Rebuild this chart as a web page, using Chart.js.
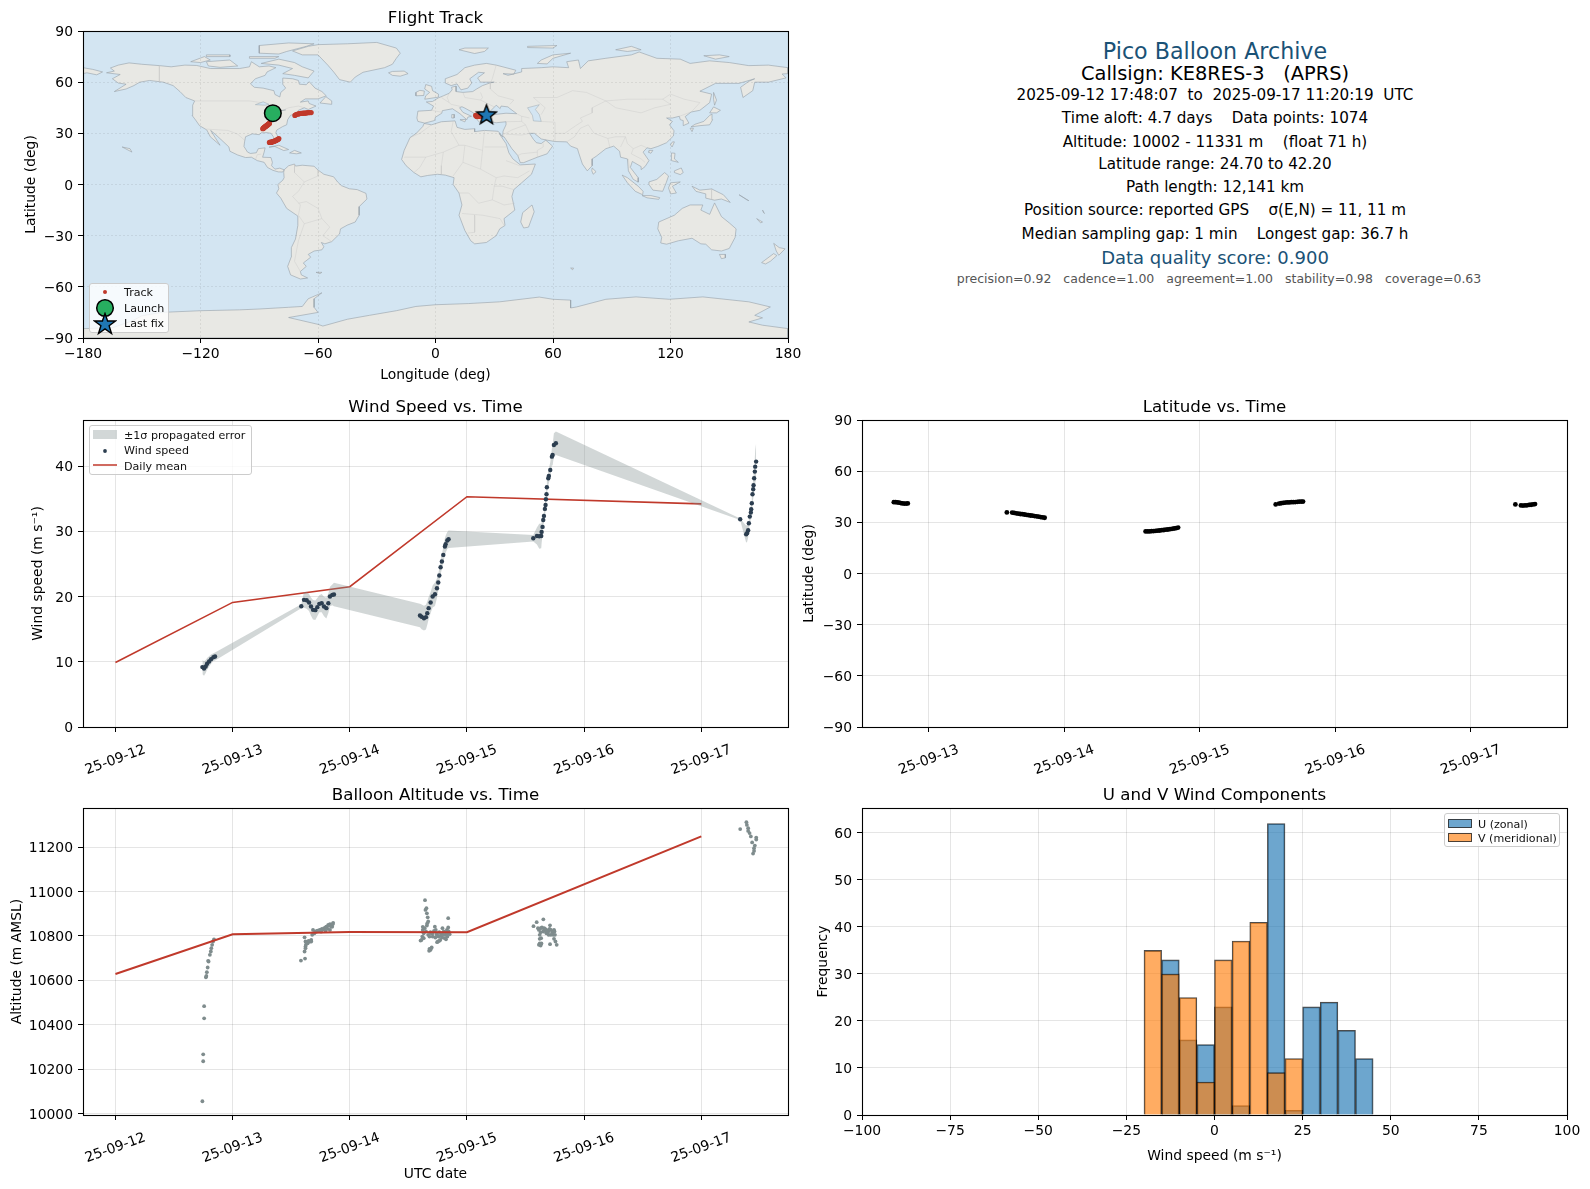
<!DOCTYPE html>
<html>
<head>
<meta charset="utf-8">
<title>Pico Balloon Archive</title>
<script src="https://cdn.jsdelivr.net/npm/chart.js@4/dist/chart.umd.min.js"></script>
<style>
html, body { margin: 0; padding: 0; background: #fff; }
body { position: relative; width: 1590px; height: 1189px; overflow: hidden; font-family: "DejaVu Sans", sans-serif; }
canvas { position: absolute; }
.info { position: absolute; left: 1215px; transform: translate(-50%, -50%); white-space: pre; color: #000; }
.legend { position: absolute; background: rgba(255,255,255,0.8); border: 1px solid #ccc; border-radius: 3px; box-sizing: border-box; font-size: 11.1px; color: #111; }
.legend span, .legend svg { position: absolute; }
.legend span { transform: translateY(-50%); white-space: pre; }
</style>
</head>
<body>
<canvas id="c-map"></canvas>
<canvas id="c-wind"></canvas>
<canvas id="c-lat"></canvas>
<canvas id="c-alt"></canvas>
<canvas id="c-hist"></canvas>

<div class="info" style="top:51px;font-size:22.2px;color:#1a5276">Pico Balloon Archive</div>
<div class="info" style="top:73px;font-size:19.4px">Callsign: KE8RES-3   (APRS)</div>
<div class="info" style="top:95px;font-size:15.2px">2025-09-12 17:48:07  to  2025-09-17 11:20:19  UTC</div>
<div class="info" style="top:118px;font-size:15.2px">Time aloft: 4.7 days    Data points: 1074</div>
<div class="info" style="top:141.5px;font-size:15.2px">Altitude: 10002 - 11331 m    (float 71 h)</div>
<div class="info" style="top:164px;font-size:15.2px">Latitude range: 24.70 to 42.20</div>
<div class="info" style="top:187px;font-size:15.2px">Path length: 12,141 km</div>
<div class="info" style="top:210px;font-size:15.2px">Position source: reported GPS    σ(E,N) = 11, 11 m</div>
<div class="info" style="top:233.5px;font-size:15.2px">Median sampling gap: 1 min    Longest gap: 36.7 h</div>
<div class="info" style="top:257px;font-size:18px;color:#1a5276">Data quality score: 0.900</div>
<div class="info" style="top:278px;left:1219px;font-size:12.5px;color:#555">precision=0.92   cadence=1.00   agreement=1.00   stability=0.98   coverage=0.63</div>

<div class="legend" style="left:89px;top:283px;width:80px;height:50px">
  <svg style="left:10px;top:3px" width="10" height="10"><circle cx="5" cy="5" r="2" fill="#c0392b"/></svg>
  <span style="left:34px;top:8px">Track</span>
  <svg style="left:5px;top:14px" width="20" height="20"><circle cx="10" cy="10" r="8.3" fill="#27ae60" stroke="#000" stroke-width="1.5"/></svg>
  <span style="left:34px;top:24px">Launch</span>
  <svg style="left:3px;top:28px" width="24" height="24"><polygon points="12,1.5 14.6,9 22.5,9 16.1,13.8 18.5,21.5 12,16.9 5.5,21.5 7.9,13.8 1.5,9 9.4,9" fill="#1f77b4" stroke="#000" stroke-width="1.4"/></svg>
  <span style="left:34px;top:39px">Last fix</span>
</div>

<div class="legend" style="left:89px;top:425px;width:163px;height:50px">
  <svg style="left:3px;top:4px" width="25" height="10"><rect x="0" y="0" width="24" height="9" fill="rgba(127,140,141,0.35)"/></svg>
  <span style="left:34px;top:9px">±1σ propagated error</span>
  <svg style="left:10px;top:20px" width="10" height="10"><circle cx="5" cy="5" r="1.9" fill="#2c3e50"/></svg>
  <span style="left:34px;top:24px">Wind speed</span>
  <svg style="left:2px;top:36px" width="26" height="6"><line x1="1" y1="3" x2="25" y2="3" stroke="#c0392b" stroke-width="1.5"/></svg>
  <span style="left:34px;top:40px">Daily mean</span>
</div>

<div class="legend" style="left:1444px;top:813px;width:116px;height:34px">
  <svg style="left:3px;top:5px" width="25" height="10"><rect x="0.5" y="0.5" width="23" height="8" fill="rgba(31,119,180,0.65)" stroke="rgba(0,0,0,0.7)"/></svg>
  <span style="left:33px;top:9.5px">U (zonal)</span>
  <svg style="left:3px;top:19px" width="25" height="10"><rect x="0.5" y="0.5" width="23" height="8" fill="rgba(255,127,14,0.65)" stroke="rgba(0,0,0,0.7)"/></svg>
  <span style="left:33px;top:23.5px">V (meridional)</span>
</div>

<script>
// DATA — time axis is day of September 2025 (UTC)
const dayTicks = [12, 13, 14, 15, 16, 17];
const dayTickLabels = ["25-09-12", "25-09-13", "25-09-14", "25-09-15", "25-09-16", "25-09-17"];

const windDays = [
  12.742, 12.756, 12.770, 12.782, 12.799, 12.816, 12.836, 12.850,
  13.586, 13.609, 13.632, 13.652, 13.669, 13.686, 13.706, 13.723, 13.740, 13.760, 13.780, 13.800, 13.817, 13.831, 13.851, 13.865,
  14.599, 14.613, 14.633, 14.650, 14.661, 14.673, 14.690, 14.707, 14.727, 14.744, 14.755, 14.764, 14.775, 14.786, 14.798, 14.812, 14.818, 14.832, 14.843,
  15.566, 15.597, 15.617, 15.634, 15.637, 15.645, 15.651, 15.657, 15.665, 15.671, 15.674, 15.679, 15.682, 15.694, 15.699, 15.711, 15.725, 15.731, 15.742, 15.759,
  17.332, 17.383, 17.392, 17.400, 17.406, 17.414, 17.423, 17.426, 17.431, 17.437, 17.443, 17.446, 17.451, 17.457, 17.460, 17.468
];
const windSpeed = [
  9.18, 8.97, 9.28, 9.69, 10.05, 10.40, 10.71, 10.81,
  18.52, 19.49, 19.44, 19.08, 18.47, 17.96, 17.91, 18.37, 18.88, 18.98, 18.47, 18.22, 18.98, 20.0, 20.26, 20.31,
  17.09, 16.89, 16.68, 16.84, 17.45, 18.22, 19.08, 20.0, 20.36, 21.28, 22.15, 23.22, 24.49, 25.36, 26.38, 27.66, 28.02, 28.58, 28.78,
  28.93, 29.29, 29.24, 29.29, 29.91, 30.67, 31.74, 32.36, 33.43, 34.04, 34.91, 35.67, 36.75, 38.12, 38.48, 39.4, 41.44, 41.7, 43.23, 43.49,
  31.85, 29.55, 29.75, 30.16, 31.23, 32.25, 32.87, 33.38, 34.3, 35.67, 36.44, 37.05, 38.12, 39.15, 39.91, 40.68
];
const windSigma = [
  1.1, 1.1, 1.0, 0.9, 0.8, 0.7, 0.6, 0.6,
  0.3, 1.2, 1.3, 1.3, 1.4, 1.5, 1.5, 1.4, 1.3, 1.4, 1.5, 1.6, 1.5, 1.5, 1.6, 1.8,
  1.8, 1.9, 1.9, 1.9, 1.8, 1.7, 1.6, 1.7, 1.8, 1.5, 1.3, 1.1, 1.1, 1.1, 1.2, 1.3, 1.3, 1.3, 1.35,
  0.5, 1.3, 1.9, 1.9, 1.8, 1.2, 1.0, 1.0, 1.0, 1.0, 1.0, 1.0, 1.0, 1.1, 1.1, 1.2, 1.3, 1.6, 1.8, 1.8,
  0.1, 1.3, 1.3, 1.1, 1.0, 1.0, 1.0, 1.0, 1.2, 1.3, 1.5, 1.6, 1.9, 2.2, 2.5, 2.8
];
const meanDays = [12, 13, 14, 15, 17];
const meanWind = [9.9, 19.1, 21.5, 35.3, 34.2];
const meanAlt = [10629, 10808, 10818, 10817, 11248];

const latDays = [
  12.742, 12.755, 12.768, 12.781, 12.794, 12.807, 12.820, 12.833, 12.845,
  13.576, 13.615, 13.630, 13.645, 13.660, 13.675, 13.690, 13.705, 13.720, 13.735, 13.750, 13.765, 13.780, 13.795, 13.810, 13.825, 13.840, 13.855,
  14.600, 14.615, 14.630, 14.645, 14.660, 14.675, 14.690, 14.705, 14.720, 14.735, 14.750, 14.765, 14.780, 14.795, 14.810, 14.825, 14.840,
  15.560, 15.585, 15.600, 15.615, 15.630, 15.645, 15.660, 15.675, 15.690, 15.705, 15.720, 15.735, 15.750, 15.762,
  17.329, 17.370, 17.385, 17.400, 17.415, 17.430, 17.445, 17.460, 17.474
];
const latValues = [
  41.8, 41.8, 41.7, 41.5, 41.3, 41.1, 41.0, 41.0, 41.1,
  35.8, 35.7, 35.5, 35.3, 35.1, 34.9, 34.8, 34.6, 34.4, 34.2, 34.0, 33.9, 33.7, 33.5, 33.3, 33.1, 32.9, 32.7,
  24.7, 24.7, 24.7, 24.8, 24.9, 25.0, 25.1, 25.2, 25.4, 25.5, 25.7, 25.8, 26.0, 26.2, 26.4, 26.6, 26.9,
  40.5, 41.0, 41.2, 41.4, 41.6, 41.7, 41.7, 41.8, 41.8, 41.9, 42.0, 42.1, 42.2, 42.2,
  40.5, 39.9, 39.8, 39.9, 40.0, 40.2, 40.3, 40.5, 40.7
];
const trackLon = [
  -83, -82.8, -82.6, -82.3, -82, -81.7, -81.5, -81.2, -81,
  -84.8, -85, -85.2, -85.4, -85.6, -85.8, -86, -86.2, -86.4, -86.6, -86.8, -87, -87.2, -87.4, -87.6, -87.8, -88, -88.2,
  -84.8, -84.5, -84.2, -83.9, -83.6, -83.3, -83, -82.7, -82.4, -82.1, -81.8, -81.5, -81.2, -80.9, -80.6, -80.3, -80,
  -71.8, -71.2, -70.6, -70, -69.4, -68.7, -68.1, -67.5, -66.9, -66.3, -65.7, -65.1, -64.3, -63.5,
  20.5, 21, 21.5, 22, 22.5, 23.2, 24, 25, 25.9
];
const launchLon = [-83.06], launchLat = [41.8];
const lastLon = [25.9], lastLat = [40.8];

const altDays = [
  12.742, 12.749, 12.749, 12.757, 12.757, 12.772, 12.776, 12.780, 12.787, 12.795, 12.791, 12.806, 12.814, 12.818, 12.825, 12.833, 12.841,
  13.583, 13.618, 13.614, 13.622, 13.625, 13.622, 13.641, 13.660, 13.671, 13.614, 13.679, 13.686, 13.705, 13.724, 13.743, 13.762, 13.781, 13.800, 13.816, 13.831, 13.858, 13.850, 13.831, 13.755, 13.793,
  13.633, 13.648, 13.671, 13.622, 13.698, 13.717, 13.736, 13.755, 13.774, 13.793, 13.812, 13.823, 13.842, 13.854,
  14.642, 14.654, 14.646, 14.658, 14.665, 14.669, 14.658, 14.623, 14.623, 14.631, 14.619, 14.604, 14.631, 14.688, 14.680, 14.699, 14.680, 14.696, 14.707, 14.726, 14.734, 14.745, 14.753, 14.772, 14.783, 14.791, 14.802, 14.810, 14.821, 14.829, 14.840, 14.840, 14.833,
  14.650, 14.669, 14.688, 14.707, 14.719, 14.730, 14.741, 14.757, 14.764, 14.776, 14.787, 14.799, 14.814, 14.821, 14.833, 14.844, 14.852, 14.745, 14.764, 14.692, 14.677, 14.612, 14.639, 14.661,
  15.568, 15.595, 15.652, 15.709, 15.606, 15.629, 15.659, 15.678, 15.697, 15.716, 15.736, 15.743, 15.621, 15.633, 15.621, 15.629, 15.678, 15.697, 15.736, 15.743, 15.755, 15.709, 15.766, 15.659,
  15.614, 15.640, 15.667, 15.690, 15.705, 15.728, 15.747, 15.716, 15.678, 15.621, 15.614, 15.636, 15.652, 15.629, 15.751,
  17.332, 17.385, 17.389, 17.400, 17.400, 17.412, 17.423, 17.469, 17.469, 17.434, 17.457, 17.450, 17.450, 17.442
];
const altValues = [
  10056, 10236, 10267, 10429, 10484, 10614, 10620, 10637, 10658, 10685, 10688, 10715, 10730, 10745, 10760, 10775, 10785,
  10689, 10698, 10730, 10745, 10760, 10775, 10767, 10775, 10782, 10794, 10805, 10827, 10820, 10824, 10827, 10832, 10835, 10842, 10850, 10853, 10859, 10842, 10827, 10820, 10823,
  10767, 10778, 10775, 10752, 10812, 10820, 10824, 10827, 10830, 10838, 10832, 10847, 10842, 10853,
  10961, 10925, 10917, 10902, 10884, 10865, 10847, 10841, 10827, 10812, 10797, 10779, 10790, 10737, 10742, 10748, 10797, 10812, 10797, 10842, 10827, 10805, 10775, 10782, 10812, 10835, 10820, 10790, 10805, 10827, 10880, 10838, 10812,
  10820, 10805, 10817, 10812, 10823, 10793, 10808, 10797, 10817, 10802, 10793, 10805, 10817, 10785, 10797, 10820, 10808, 10772, 10778, 10742, 10733, 10782, 10835, 10857,
  10844, 10862, 10875, 10848, 10835, 10835, 10835, 10827, 10823, 10827, 10820, 10827, 10805, 10790, 10767, 10757, 10812, 10805, 10805, 10787, 10775, 10763, 10760, 10827,
  10827, 10838, 10832, 10817, 10832, 10817, 10820, 10805, 10823, 10787, 10760, 10766, 10820, 10817, 10805,
  11281, 11312, 11300, 11285, 11273, 11263, 11248, 11243, 11234, 11221, 11207, 11195, 11183, 11171
];

const histCenters = [-17.5, -12.5, -7.5, -2.5, 2.5, 7.5, 12.5, 17.5, 22.5, 27.5, 32.5, 37.5, 42.5];
const histU = [0, 33, 16, 15, 23, 2, 0, 62, 1, 23, 24, 18, 12];
const histV = [35, 30, 25, 7, 33, 37, 41, 9, 12, 0, 0, 0, 0];

const lonTicks = [-180, -120, -60, 0, 60, 120, 180];
const latTicks = [-90, -60, -30, 0, 30, 60, 90];
const windTicks = [0, 10, 20, 30, 40];
const altTicks = [10000, 10200, 10400, 10600, 10800, 11000, 11200];
const histXTicks = [-100, -75, -50, -25, 0, 25, 50, 75, 100];
const histYTicks = [0, 10, 20, 30, 40, 50, 60];

// coastlines, [lon, lat]
const landNorthAmerica = [[-168,65.5],[-164,66.5],[-166,68.3],[-162,70],[-156.5,71.3],[-150,70.5],[-141,69.7],[-135,69],[-128,70],[-122,69.8],[-115,68],[-108,68],[-100,68],[-95,69],[-94,72],[-90,69],[-85,69.5],[-81.5,68.5],[-86,66],[-87,64],[-92,62],[-94.5,59],[-92.5,57],[-88,56.5],[-82.5,55],[-82,52.8],[-79.5,51.3],[-79,54],[-76.5,56.5],[-78,58.8],[-78,62.4],[-73,62],[-70,61],[-69.5,58.8],[-66,58.5],[-64.5,60.3],[-61.5,56.5],[-58,54.5],[-55.8,52],[-60,50.2],[-66.5,50.2],[-69,48.3],[-65,49],[-64.5,47.5],[-61,46],[-65,44],[-67,45],[-70,43.5],[-70.5,41.8],[-74,40.6],[-75.5,38],[-76,35],[-78,34],[-81,32],[-81.5,30.5],[-80,26.8],[-80.5,25.2],[-81.8,26],[-82.8,28],[-84,30],[-86,30.4],[-89,30.3],[-90,29.2],[-93.5,29.7],[-97,28],[-97.5,25],[-97.8,22.3],[-96,19],[-94.5,18.2],[-91.5,18.6],[-90.5,21],[-87,21.5],[-87.5,19],[-88.3,16],[-84,15.8],[-83.3,13],[-83.7,11],[-82,9],[-79.5,9.6],[-77.3,8.6],[-78,7.3],[-80.3,7.4],[-83,8.3],[-85.8,10],[-87.5,13],[-91,14],[-94,16],[-97,15.8],[-101,17.3],[-105,19.5],[-105.5,22],[-109,25.8],[-112.5,29.5],[-114.8,31.7],[-112.5,27.5],[-110,23],[-112,25],[-115,28],[-116.8,32],[-120.5,34.5],[-122.5,37.8],[-124.3,40.5],[-124,46.5],[-123,49],[-127.5,51],[-130.5,54.5],[-134,58],[-139,60],[-146,61],[-151,60],[-154,58],[-158,56],[-164,54.5],[-158,58.8],[-162,59.5],[-165,62],[-161,64.5],[-168,65.5]];
const landSouthAmerica = [[-77.3,8.6],[-75,11],[-72,12],[-71.5,10.8],[-68,11.3],[-62,10.7],[-60,8.5],[-57,6],[-52,4.5],[-50,1.5],[-48,-0.7],[-44,-2.5],[-40,-3],[-35.5,-5.2],[-35,-8.5],[-39,-13],[-39,-18],[-41,-22],[-45,-23.8],[-48.5,-26],[-49,-29],[-53,-33.5],[-56.5,-34.8],[-58.3,-34],[-57,-36.5],[-58,-38.3],[-62,-39],[-65,-41],[-63.7,-42.6],[-67.5,-46],[-66,-48],[-69,-51],[-68.5,-53],[-65.3,-54.8],[-69,-55.4],[-74,-53],[-75.5,-48],[-73.5,-42],[-73.6,-37],[-71.5,-32],[-70.3,-24],[-70.3,-18.5],[-76,-14],[-79,-8],[-81.2,-5],[-80,-2.5],[-80.5,0],[-78,2.5],[-77.3,4],[-77.5,7.2],[-77.3,8.6]];
const landGreenland = [[-73,78.3],[-68,76],[-60,76],[-55,70],[-52,66],[-49,61.5],[-43.5,60],[-41,63],[-37,65.8],[-26,68.5],[-22,70.5],[-20,74],[-18,77],[-20,80],[-30,83.3],[-45,82.5],[-60,82],[-65,81],[-73,78.3]];
const landEurasia = [[-9,37],[-9.5,39],[-9,43],[-2,43.5],[-1,46],[-4.7,48.4],[-1.5,48.7],[1.5,50.8],[4,52],[7,53.5],[8.5,55.5],[8.2,57],[10.5,57.7],[10.5,54.5],[14,54],[19,54.5],[21,56],[24,58],[28,59.6],[30,60],[23,60],[21.5,62.5],[25,65.5],[22,65.8],[17.5,62],[18.5,59.5],[16.5,56.5],[13,55.5],[11,59],[8,58],[5,59.5],[5,62],[11,64.5],[15,68.5],[20,70],[26,71],[31,70],[41,67],[40,64.7],[34.5,65],[37,64],[44,66],[44,68],[54,68.5],[60,69],[68,68.5],[67,72],[73,73],[74,68],[78,72.5],[87,74],[100,76],[104,77.7],[113,74],[125,73.5],[130,71],[140,72.5],[150,71.5],[160,69.7],[170,70],[180,68.5],[180,65],[177,64.8],[179,62.5],[170,60],[163,60],[162,55],[157,51],[155.8,57],[160,60.5],[163,62],[155,59.3],[143,59.3],[135,54.7],[141,53],[140,48],[135,43.5],[130.5,42.5],[127.5,39.8],[129.4,36],[126.5,34.5],[126.5,37.5],[125,38],[124.5,40],[121,39],[118,39],[121,37],[119.5,35],[121.8,31.5],[121.5,28.5],[118,24.5],[113.5,22.3],[110,21],[108,21.5],[106,19],[109,14],[107,10.5],[105,8.7],[105,10.5],[100.5,13.5],[99.5,10],[103.5,4],[103.5,1.4],[101,3],[98.5,8],[98,15],[94.5,16],[94,19.5],[91,22.5],[87,21],[82,16.5],[80,15],[80,11],[77.5,8],[75,12],[73,19],[72.5,21],[69,22.5],[67,25],[61,25.2],[57,26],[54,26.7],[50.5,30],[48,30],[50,26.5],[51.5,24.5],[54,24],[56.3,26],[59.8,22.5],[57,18],[52,16],[45,12.8],[43.3,12.8],[42,17],[39,21],[35,28],[34.3,28],[34.5,31.3],[36,35],[36,36.8],[31,36.2],[27.5,37],[26.5,39.5],[29,41],[31.5,41.2],[36,41.8],[41.5,41.5],[38,44.5],[37,45.5],[33.5,46],[33,44.5],[31,46.5],[28,43],[28.5,41.2],[26,40.7],[23.5,40],[24,38],[22.5,36.5],[20,39.5],[19.4,42],[15,44.8],[13.5,45.6],[12.3,45],[14,42.3],[18.4,40],[16.5,39.5],[16,38],[12.5,41.5],[8.7,44.4],[3.5,43.3],[3.2,41.8],[0,39.5],[-0.5,37.5],[-5.5,36],[-9,37]];
const landAfrica = [[-5.8,35.8],[-2,35],[3,36.8],[10,37.3],[11,33.5],[15,32.3],[20,32.7],[20,31],[25,31.7],[32,31.2],[34.3,28],[32.5,29.9],[36,24],[37.5,18.5],[39.5,15],[43.3,11.5],[51,12],[49,6],[44,1],[40,-3],[39,-7],[40.5,-15],[35,-20],[35.5,-24],[32.8,-26],[31,-30],[26,-34],[20,-34.8],[18,-33],[15,-27],[12,-18],[13.5,-12],[12,-5],[9,0],[9.5,4],[5,5.5],[1,6],[-4,5.3],[-7.5,4.5],[-11,7],[-15,11],[-17.3,14.7],[-16,20],[-13,27.5],[-9.8,30],[-6.5,34],[-5.8,35.8]];
const landAustralia = [[114,-22],[122,-18],[126,-14],[130,-12],[136.5,-12],[135.5,-15],[140,-17.5],[142.5,-10.8],[146,-18.8],[150,-22.5],[153.5,-26],[153,-31],[150,-37.5],[146,-39],[141,-38.3],[138,-35],[135.5,-34.8],[131,-31.5],[124,-33],[118,-35],[115,-34.3],[115.5,-31],[113.5,-26],[114,-22]];
const landAntarctica = [[-180,-90],[-180,-84.5],[-165,-84],[-155,-80],[-150,-77],[-140,-75],[-120,-74],[-100,-73.5],[-90,-73],[-75,-72],[-68,-71.5],[-65,-67],[-58,-63.5],[-62,-67],[-62,-72],[-60,-75],[-75,-78],[-60,-82],[-57.5,-83],[-45,-79],[-33.7,-76.7],[-20,-74],[-10,-71.5],[0,-70.5],[17,-69.8],[32.7,-68.8],[53,-66],[60,-67.3],[69,-67.8],[69,-72.4],[72,-71.8],[87,-67.3],[102.4,-65.9],[119.4,-67.3],[136.5,-65.9],[160,-68.8],[171,-71.8],[163,-76.7],[167,-78.2],[160,-80.6],[167,-82.5],[180,-84.5],[180,-90],[-180,-90]];
const landIslands = [
  [[-80,73.5],[-72,71.5],[-68,69],[-62,66.5],[-65,62.5],[-72,64],[-78,65],[-73,68],[-80,70],[-89,71],[-80,73.5]],
  [[-117,72],[-105,73],[-101,69.5],[-110,68.7],[-116,69.5],[-117,72]],
  [[-90,77],[-80,76.5],[-76,78],[-66,81],[-62,82.5],[-75,83],[-90,81.5],[-90,77]],
  [[-125,72],[-118,75],[-115,73],[-120,71.5],[-125,72]],
  [[-95,75],[-80,75],[-82,74],[-95,74],[-95,75]],
  [[-117,76],[-105,76],[-105,75],[-117,75],[-117,76]],
  [[-59,47.8],[-53,47],[-53,49],[-56,51.5],[-59,47.8]],
  [[-85,21.9],[-80,23],[-75,20.5],[-77.5,19.9],[-82,22.3],[-85,21.9]],
  [[-74.5,18.5],[-72,20],[-68.5,18.5],[-71,18],[-74.5,18.5]],
  [[-160,22],[-155,19],[-156,21],[-160,22]],
  [[-61,-51.5],[-58,-51.5],[-59,-52.3],[-61,-51.5]],
  [[49.3,-12],[50.4,-16],[47.5,-25],[45,-25.5],[43.5,-22],[44.5,-16.5],[49.3,-12]],
  [[-5.5,50],[1.3,51.2],[1.5,53],[-1.5,55],[-2,57.6],[-5,58.6],[-5.5,56],[-3,54],[-5,52],[-5.5,50]],
  [[-10,52],[-6,52.2],[-5.7,54.8],[-8,55.2],[-10,54],[-10,52]],
  [[-24,65.5],[-22,64],[-18,63.5],[-14,65],[-16,66.5],[-22,66.3],[-24,65.5]],
  [[12,79],[20,76.8],[25,78],[27,80],[15,80],[12,79]],
  [[52,71],[57,70.7],[60,74],[69,77],[60,76],[54,73],[52,71]],
  [[92,79],[100,81],[105,79],[98,78],[92,79]],
  [[137,75.5],[145,76],[150,75],[143,73.5],[137,75.5]],
  [[47,81],[62,81.5],[60,80],[47,80.3],[47,81]],
  [[12.5,38],[15.5,38.2],[15,36.7],[12.5,38]],
  [[8.3,41],[9.7,41],[9.5,39],[8.4,39],[8.3,41]],
  [[80,9.7],[82,7.5],[80.5,6],[79.8,8],[80,9.7]],
  [[130.5,33.8],[135,34.5],[140,35],[141.5,38],[141.2,41.3],[140,40.5],[137,37],[132.5,35.3],[130.5,33.8]],
  [[140,42],[143.5,42],[145.5,43.5],[142,45.5],[140,42]],
  [[130,33],[131.7,33],[131,31],[130,33]],
  [[142,54],[143.5,49.5],[142.5,46.5],[142,50],[142,54]],
  [[121,25],[122,25],[120.8,22],[120,23.3],[121,25]],
  [[109,20],[111,20],[110,18.3],[108.7,19],[109,20]],
  [[120.5,18.5],[122.3,18.3],[122,15],[124,13],[120.5,14],[120.5,18.5]],
  [[122,8],[125.5,9.7],[126.5,7],[125,5.8],[122,7],[122,8]],
  [[109,1.5],[113,3],[117,7],[119,5],[117.8,1],[116,-4],[111,-3.3],[109,0],[109,1.5]],
  [[95.3,5.5],[98,4],[103.5,-1],[106,-4],[105.8,-6],[102,-4],[98,1],[95.3,5.5]],
  [[105.5,-6.5],[110,-6.5],[114.5,-7.7],[114,-8.7],[108,-7.8],[105.5,-6.5]],
  [[120,1],[125,1.5],[121,-1],[123,-5],[120,-5.5],[119,-2],[120,1]],
  [[131,-1],[135,-3.3],[141,-2.6],[147,-6],[150.5,-10.5],[146,-8.5],[142.5,-9.2],[138,-8],[138,-5.5],[133,-4],[131,-1]],
  [[155,-6],[160,-9.5],[159,-9],[155,-6]],
  [[167,-15],[168,-17],[167.5,-16.5],[167,-15]],
  [[145,-41],[148,-41],[148,-43],[146,-43.5],[145,-41]],
  [[172.7,-34.5],[175.5,-37],[178.5,-37.7],[175.3,-41.5],[174,-39],[172.7,-34.5]],
  [[172.7,-40.5],[174.3,-41.7],[171,-45],[168.5,-46.6],[166.5,-45.8],[172.7,-40.5]],
  [[164,-20],[167,-22],[166,-22.5],[164,-20]],
  [[69,-49],[70.5,-49],[70,-50],[69,-49]],
  [[-180,68.5],[-175,67.5],[-170,66],[-173,64.3],[-178,65.5],[-180,65],[-180,68.5]]
];
const waterLakes = [
  [[47,45],[53,46.8],[51,44],[53,41],[54,37],[50,37.3],[49.5,40.5],[47,45]],
  [[-92,46.8],[-88,48.5],[-85,47],[-87,46.5],[-92,46.8]],
  [[-87.5,42],[-86,44],[-84.5,46],[-80.5,45],[-82.5,43],[-84,45],[-86.3,42],[-87.5,42]],
  [[-83,41.7],[-79,43.2],[-76.5,43.7],[-79.8,43.3],[-83,41.7]]
];
// a few of the faint country borders
const borderLines = [
  [[-141,69.7],[-141,60]],
  [[-123,49],[-95,49],[-89,48],[-83,45.5],[-79,43],[-75,45],[-70,46],[-67,45]],
  [[-117,32.5],[-106,31.7],[-101,29.5],[-97.5,26]],
  [[-92,14.5],[-91,17.5],[-89,17.8]],
  [[-70,-18],[-69,-12],[-73,-7],[-70,-4],[-67,1.5],[-60,5]],
  [[-70,-18],[-67,-23],[-70,-33],[-72,-45],[-69,-51]],
  [[-58,-20],[-54,-25],[-57.5,-30],[-53,-33.5]],
  [[-67,-23],[-58,-20],[-60,-14],[-66,-10],[-70,-11]],
  [[-72,12],[-72,7],[-67,1.5]],
  [[-60,8.5],[-60,5]],
  [[-2,35],[-8,30],[-13,27.5]],
  [[9,37],[8,31],[12,23],[15,23],[24,20],[25,31.7]],
  [[25,22],[36,22]],
  [[-16,16],[-5,16],[4,19],[12,23]],
  [[-5,16],[-8,10],[-11,7]],
  [[4,19],[3,11],[3,6]],
  [[15,23],[14,13],[9,5]],
  [[24,20],[23,9],[31,4],[35,5],[42,4],[48,8]],
  [[14,13],[23,9]],
  [[36,14],[43,11]],
  [[12,-5],[17,-5],[22,-11],[29,-9],[30,-1],[31,4]],
  [[13.5,-17],[24,-18],[33,-20],[35,-24]],
  [[20,-18],[20,-28],[16.5,-28.5]],
  [[30,-1],[34,-1],[40,-3]],
  [[29,-9],[35,-12],[40.5,-11]],
  [[3,51],[7,48],[8,47],[13.5,45.6]],
  [[-2,43.5],[3,42.4]],
  [[7,53.5],[6,51],[7,48]],
  [[14,54],[15,51],[23,49.5],[24,51],[23,54]],
  [[23,49.5],[30,45.5]],
  [[28,59.6],[28,56],[32,52],[40,49.5],[38,47]],
  [[31,70],[29,62],[28,59.6]],
  [[36,36.8],[44,37],[44,40],[41.5,41.5]],
  [[44,37],[46,35],[48,30]],
  [[46,35],[39,32],[35,29.5]],
  [[44,40],[48,39]],
  [[48,30],[44,29],[36,29.5]],
  [[52,16],[52,20],[55,22],[55,24]],
  [[42,17],[44,18],[52,19]],
  [[61,25],[61,30],[61,36.5],[54,37]],
  [[61,30],[66,30],[71,34],[75,37]],
  [[67,25],[71,28],[74,33],[78,35],[81,30],[88,27],[92,28],[97,28]],
  [[88,27],[89,22]],
  [[54,41],[56,45],[50,51],[62,51],[70,55],[77,54],[87,49]],
  [[87,49],[98,50],[107,50],[116,50],[120,53],[127,50],[135,48],[131,43]],
  [[87,49],[80,45],[80,42],[74,39],[75,37]],
  [[87,49],[92,45],[105,42],[112,45],[120,47],[116,50]],
  [[97,28],[98,24],[101,21],[105,23],[108,21.5]],
  [[97,28],[94.5,22]],
  [[101,21],[100,18],[105,15],[107,13]],
  [[99,10],[98.5,15]],
  [[124.5,40],[130.5,42.5]],
  [[141,-2.6],[141,-9]]
];

const landShapes = [landNorthAmerica, landSouthAmerica, landGreenland, landEurasia, landAfrica, landAustralia, landAntarctica].concat(landIslands);

const OCEAN = "#d3e5f2";
const LAND = "#e8e8e4";
const COAST = "rgba(150,160,168,0.75)";
const BORDER = "rgba(195,197,195,0.6)";
const GRID = "rgba(0,0,0,0.10)";
const MINUS = v => String(v).replace("-", "\u2212");

Chart.defaults.font.family = '"DejaVu Sans", sans-serif';
Chart.defaults.font.size = 13.9;
Chart.defaults.color = "#000";
Chart.defaults.animation = false;
Chart.defaults.responsive = false;
Chart.defaults.plugins.legend.display = false;
Chart.defaults.plugins.tooltip.enabled = false;

// black box round the plot, like a matplotlib axes
const framePlugin = {
  id: "frame",
  afterDraw(chart) {
    const a = chart.chartArea, ctx = chart.ctx;
    ctx.save();
    ctx.strokeStyle = "#000";
    ctx.lineWidth = 1.1;
    ctx.strokeRect(Math.round(a.left) + 0.5, Math.round(a.top) + 0.5, Math.round(a.right - a.left), Math.round(a.bottom - a.top));
    ctx.restore();
  }
};
// rotated date labels centred under the tick (Chart.js anchors them at the end)
const dateLabelPlugin = {
  id: "dateLabels",
  afterDraw(chart) {
    const s = chart.scales.x, ctx = chart.ctx;
    ctx.save();
    ctx.font = '13.9px "DejaVu Sans"';
    ctx.fillStyle = "#000";
    ctx.textAlign = "center";
    ctx.textBaseline = "middle";
    s.ticks.forEach(t => {
      ctx.save();
      ctx.translate(s.getPixelForValue(t.value), chart.chartArea.bottom + 33);
      ctx.rotate(-20 * Math.PI / 180);
      ctx.fillText(dayTickLabels[dayTicks.indexOf(t.value)], 0, 0);
      ctx.restore();
    });
    ctx.restore();
  }
};
const oceanPlugin = {
  id: "ocean",
  beforeDatasetsDraw(chart) {
    const a = chart.chartArea, ctx = chart.ctx;
    ctx.save();
    ctx.fillStyle = OCEAN;
    ctx.fillRect(a.left, a.top, a.right - a.left, a.bottom - a.top);
    ctx.restore();
  }
};

// puts the plot area at fixed page pixels: cell is the canvas box, axes get fixed sizes
function place(id, plot, axisX, bottom) {
  const left = Math.round(axisX - 8.3), top = plot.t - 26, right = plot.r + 20;
  const cv = document.getElementById(id);
  cv.width = right - left;
  cv.height = bottom - top;
  cv.style.left = left + "px";
  cv.style.top = top + "px";
  cv.style.width = cv.width + "px";
  cv.style.height = cv.height + "px";
  return { cv, yWidth: plot.l - left, xHeight: bottom - plot.b, right: cv.width - (plot.r - left) };
}

function axes(p, cfg) {
  const x = {
    type: "linear", min: cfg.xMin, max: cfg.xMax, offset: false,
    grid: { color: cfg.gridColor || GRID, lineWidth: cfg.gridWidth || 1, tickColor: "#000", tickWidth: 1, tickLength: 5, offset: false, z: cfg.gridZ || 0 },
    border: { display: cfg.axisLine !== false, color: "#000", dash: cfg.dash },
    ticks: { display: cfg.xLabels !== false, padding: 3.5, maxRotation: 0, minRotation: 0, autoSkip: false, font: { size: 13.9 }, callback: MINUS },
    afterBuildTicks: s => { s.ticks = cfg.xTicks.map(v => ({ value: v })); },
    afterFit: s => { s.height = p.xHeight; }
  };
  if (cfg.xTitle) x.title = { display: true, text: cfg.xTitle, padding: 0, font: { size: 13.9 } };
  const y = {
    type: "linear", min: cfg.yMin, max: cfg.yMax,
    grid: { color: cfg.gridColor || GRID, lineWidth: cfg.gridWidth || 1, tickColor: "#000", tickWidth: 1, tickLength: 5, z: cfg.gridZ || 0 },
    border: { display: cfg.axisLine !== false, color: "#000", dash: cfg.dash },
    ticks: { padding: 5, labelOffset: 1.5, autoSkip: false, font: { size: 13.9 }, callback: MINUS },
    afterBuildTicks: s => { s.ticks = cfg.yTicks.map(v => ({ value: v })); },
    afterFit: s => { s.width = p.yWidth; },
    title: { display: true, text: cfg.yTitle, padding: 0, font: { size: 13.9 } }
  };
  return { x, y };
}

function titled(text) {
  return { display: true, text, fullSize: false, padding: { top: 3.5, bottom: 2.5 }, font: { size: 16.67, weight: "normal" }, color: "#000" };
}

const xy = (xs, ys) => xs.map((v, i) => ({ x: v, y: ys[i] }));
const pairs = list => list.map(p => ({ x: p[0], y: p[1] }));

// star marker for the last fix
function starCanvas(r, fill) {
  const c = document.createElement("canvas"), s = r * 2 + 4;
  c.width = s; c.height = s;
  const g = c.getContext("2d");
  g.beginPath();
  for (let i = 0; i < 10; i++) {
    const a = -Math.PI / 2 + i * Math.PI / 5, q = i % 2 ? r * 0.42 : r;
    g.lineTo(s / 2 + q * Math.cos(a), s / 2 + q * Math.sin(a));
  }
  g.closePath();
  g.fillStyle = fill; g.fill();
  g.strokeStyle = "#000"; g.lineWidth = 1.4; g.stroke();
  return c;
}

// ---- Flight Track
const pMap = place("c-map", { l: 83, r: 788, t: 31, b: 338 }, 31.4, 384);
new Chart(pMap.cv, {
  type: "scatter",
  data: {
    datasets: [
      ...landShapes.map(s => ({ data: pairs(s), showLine: true, fill: "shape", backgroundColor: LAND, borderColor: COAST, borderWidth: 0.8, pointRadius: 0, order: 6 })),
      ...waterLakes.map(s => ({ data: pairs(s), showLine: true, fill: "shape", backgroundColor: OCEAN, borderColor: COAST, borderWidth: 0.6, pointRadius: 0, order: 5 })),
      ...borderLines.map(s => ({ data: pairs(s), showLine: true, fill: false, borderColor: BORDER, borderWidth: 0.6, pointRadius: 0, order: 5 })),
      { label: "Track", data: xy(trackLon, latValues), pointRadius: 2.6, pointBackgroundColor: "#c0392b", pointBorderWidth: 0, order: 3 },
      { label: "Launch", data: xy(launchLon, launchLat), pointRadius: 8.3, pointBackgroundColor: "#27ae60", pointBorderColor: "#000", pointBorderWidth: 1.5, order: 2 },
      { label: "Last fix", data: xy(lastLon, lastLat), pointStyle: starCanvas(10.3, "#1f77b4"), order: 1 }
    ]
  },
  options: {
    layout: { padding: { right: pMap.right } },
    plugins: { title: titled("Flight Track") },
    scales: axes(pMap, { xMin: -180, xMax: 180, yMin: -90, yMax: 90, xTicks: lonTicks, yTicks: latTicks, xTitle: "Longitude (deg)", yTitle: "Latitude (deg)", dash: [2, 2], gridColor: "rgba(0,0,0,0.09)", gridWidth: 0.8, gridZ: 1, axisLine: false })
  },
  plugins: [oceanPlugin, framePlugin]
});

// ---- Wind Speed vs. Time
const pWind = place("c-wind", { l: 83, r: 788, t: 420, b: 727 }, 38.5, 790);
new Chart(pWind.cv, {
  type: "scatter",
  data: {
    datasets: [
      { label: "low", data: xy(windDays, windSpeed.map((v, i) => v - windSigma[i])), showLine: true, borderWidth: 0, pointRadius: 0, fill: false, order: 2 },
      { label: "±1σ propagated error", data: xy(windDays, windSpeed.map((v, i) => v + windSigma[i])), showLine: true, borderWidth: 0, pointRadius: 0, fill: "-1", backgroundColor: "rgba(127,140,141,0.35)", order: 2 },
      { label: "Wind speed", data: xy(windDays, windSpeed), pointRadius: 2.2, pointBackgroundColor: "#2c3e50", pointBorderWidth: 0, order: 1 },
      { label: "Daily mean", data: xy(meanDays, meanWind), showLine: true, borderColor: "#c0392b", borderWidth: 1.6, pointRadius: 0, order: 3 }
    ]
  },
  options: {
    layout: { padding: { right: pWind.right } },
    plugins: { title: titled("Wind Speed vs. Time") },
    scales: axes(pWind, { xMin: 11.723, xMax: 17.74, yMin: 0, yMax: 47.06, xTicks: dayTicks, yTicks: windTicks, xLabels: false, yTitle: "Wind speed (m s\u207B\u00B9)" })
  },
  plugins: [framePlugin, dateLabelPlugin]
});

// ---- Latitude vs. Time
const pLat = place("c-lat", { l: 862, r: 1567, t: 420, b: 727 }, 809.7, 790);
new Chart(pLat.cv, {
  type: "scatter",
  data: { datasets: [{ label: "Latitude", data: xy(latDays, latValues), pointRadius: 2.4, pointBackgroundColor: "#000", pointBorderWidth: 0 }] },
  options: {
    layout: { padding: { right: pLat.right } },
    plugins: { title: titled("Latitude vs. Time") },
    scales: axes(pLat, { xMin: 12.507, xMax: 17.71, yMin: -90, yMax: 90, xTicks: dayTicks.slice(1), yTicks: latTicks, xLabels: false, yTitle: "Latitude (deg)" })
  },
  plugins: [framePlugin, dateLabelPlugin]
});

// ---- Balloon Altitude vs. Time
const pAlt = place("c-alt", { l: 83, r: 788, t: 808, b: 1115 }, 17.2, 1183);
new Chart(pAlt.cv, {
  type: "scatter",
  data: {
    datasets: [
      { label: "Altitude", data: xy(altDays, altValues), pointRadius: 1.9, pointBackgroundColor: "#7f8c8d", pointBorderWidth: 0, order: 2 },
      { label: "Daily mean", data: xy(meanDays, meanAlt), showLine: true, borderColor: "#c0392b", borderWidth: 2, pointRadius: 0, order: 1 }
    ]
  },
  options: {
    layout: { padding: { right: pAlt.right } },
    plugins: { title: titled("Balloon Altitude vs. Time") },
    scales: axes(pAlt, { xMin: 11.723, xMax: 17.74, yMin: 9994, yMax: 11376, xTicks: dayTicks, yTicks: altTicks, xLabels: false, xTitle: "UTC date", yTitle: "Altitude (m AMSL)" })
  },
  plugins: [framePlugin, dateLabelPlugin]
});

// ---- U and V Wind Components
const pHist = place("c-hist", { l: 862, r: 1567, t: 808, b: 1115 }, 823, 1165);
const histScales = axes(pHist, { xMin: -100, xMax: 100, yMin: 0, yMax: 65.3, xTicks: histXTicks, yTicks: histYTicks, xTitle: "Wind speed (m s\u207B\u00B9)", yTitle: "Frequency" });
new Chart(pHist.cv, {
  type: "bar",
  data: {
    datasets: [
      { label: "U (zonal)", data: xy(histCenters, histU), backgroundColor: "rgba(31,119,180,0.65)", borderColor: "rgba(0,0,0,0.7)", borderWidth: 1.1, order: 2, grouped: false, barPercentage: 1, categoryPercentage: 1 },
      { label: "V (meridional)", data: xy(histCenters, histV), backgroundColor: "rgba(255,127,14,0.65)", borderColor: "rgba(0,0,0,0.7)", borderWidth: 1.1, order: 1, grouped: false, barPercentage: 1, categoryPercentage: 1 }
    ]
  },
  options: {
    layout: { padding: { right: pHist.right } },
    plugins: { title: titled("U and V Wind Components") },
    scales: histScales
  },
  plugins: [framePlugin]
});
</script>
</body>
</html>
